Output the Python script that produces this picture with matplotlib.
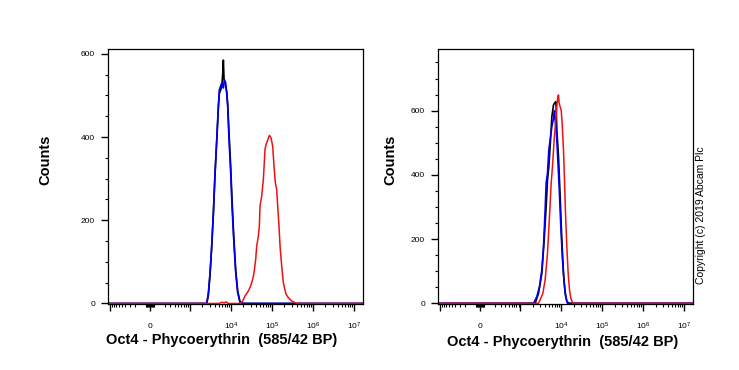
import numpy as np
import matplotlib
matplotlib.use("Agg")
import matplotlib.pyplot as plt
from matplotlib.ticker import FixedLocator, NullFormatter

plt.rcParams['font.family'] = ['Liberation Sans', 'DejaVu Sans']
plt.rcParams['mathtext.fontset'] = 'custom'
plt.rcParams['mathtext.rm'] = 'Liberation Sans'

# ---- data (fluorescence intensity vs counts) ----
# left panel
xl_black = [-1100, 0, 1000, 2545, 2795, 3070, 3370, 3700, 4060, 4470, 4895, 5180, 5910, 6245, 6490,
            6735, 7120, 7820, 8270, 8915, 9790, 10550, 11590, 12980, 14500, 16530, 20000, 1.6e7]
yl_black = [0, 0, 0, 0, 20, 70, 135, 215, 310, 390, 470, 505, 520, 550, 585,
            540, 530, 510, 480, 410, 330, 250, 165, 80, 30, 4, 0, 0]

xl_blue = [-1100, 0, 1000, 2545, 2795, 3070, 3370, 3700, 4060, 4470, 4895, 5180, 5910, 6490,
           6860, 7395, 7820, 8270, 8915, 9790, 10550, 11590, 12980, 14500, 16530, 20000, 1.6e7]
yl_blue = [0, 0, 0, 0, 26, 74, 140, 218, 314, 394, 474, 514, 530, 518,
           538, 530, 505, 474, 394, 314, 234, 154, 74, 26, 2, 0, 0]

xl_red = [-1100, 0, 1000, 5000, 6000, 6800, 7500, 8500, 17000, 19200, 21900, 26400, 30100, 33700,
          36300, 39900, 42200, 46300, 49000, 50800, 55800, 61300, 67300, 71200, 76700, 85900,
          94300, 103600, 111500, 120300, 129600, 137100, 147700, 156400, 171700, 188400, 218900,
          249600, 301000, 363000, 413600, 1.6e7]
yl_red = [0, 0, 0, 0, 3, 1, 4, 0, 0, 6, 18, 30, 42, 58,
          74, 106, 138, 162, 186, 234, 258, 298, 370, 382, 390, 404,
          398, 378, 330, 290, 274, 234, 186, 138, 90, 50, 22,
          14, 6, 2, 0, 0]

# right panel
xr_black = [-1100, 0, 1000, 2316, 2795, 3370, 3840, 4295, 4630, 4990, 5370, 5910, 6490, 7120,
            7395, 7530, 7820, 8590, 9430, 10360, 11370, 12480, 13720, 16000, 1.6e7]
yr_black = [0, 0, 0, 0, 31, 93, 197, 301, 384, 426, 488, 581, 618, 626,
            628, 612, 540, 457, 332, 197, 93, 31, 5, 0, 0]

xr_blue = [-1100, 0, 1000, 2110, 2545, 2955, 3370, 3700, 4060, 4295, 4630, 4990, 5370, 5910, 6490,
           6860, 7120, 7530, 7820, 8270, 8915, 9790, 10750, 11800, 12960, 14230, 16000, 1.6e7]
yr_blue = [0, 0, 0, 0, 21, 52, 104, 176, 291, 374, 405, 477, 509, 550, 576,
           600, 571, 540, 509, 446, 363, 239, 135, 62, 21, 0, 0, 0]

xr_red = [-1100, 0, 1000, 2795, 3185, 3565, 4060, 4630, 5180, 5690, 6130, 6730, 7395, 7820, 8270,
          8590, 8915, 9430, 9980, 10550, 11370, 12030, 12720, 13720, 14770, 15930, 17150, 18840,
          20710, 1.6e7]
yr_red = [0, 0, 0, 0, 16, 31, 73, 156, 270, 374, 426, 509, 571, 612, 643,
          649, 623, 612, 602, 561, 477, 384, 280, 176, 93, 42, 16, 2,
          0, 0]

ylims = [(-2, 611), (-3, 791)]
ymajor = [0, 200, 400, 600]
xmajor = [-1000, 0, 1000, 1e4, 1e5, 1e6, 1e7]
xmajor_labels = ['', r'$\mathregular{0}$', '', r'$\mathregular{10^4}$', r'$\mathregular{10^5}$',
                 r'$\mathregular{10^6}$', r'$\mathregular{10^7}$']
xminor = [-k * 100 for k in range(2, 10)] + [-k * 10 for k in range(1, 6)] + \
         [k * 10 for k in range(1, 6)] + [k * 100 for k in range(2, 10)] + \
         [k * 10 ** n for n in range(3, 7) for k in range(2, 10)]

fig = plt.figure(figsize=(7.39, 3.70), dpi=100)
ax1 = fig.add_axes([107.7 / 739, 65.7 / 370, 255.3 / 739, 255 / 370])
ax2 = fig.add_axes([437.7 / 739, 65.7 / 370, 255.6 / 739, 255 / 370])

panels = [
    (ax1, (xl_black, yl_black), (xl_blue, yl_blue), (xl_red, yl_red)),
    (ax2, (xr_black, yr_black), (xr_blue, yr_blue), (xr_red, yr_red)),
]

for i, (ax, blk, blu, red) in enumerate(panels):
    ax.plot(blk[0], blk[1], color='black', lw=1.2)
    ax.plot(blu[0], blu[1], color='#0000ee', lw=1.2)
    ax.plot(red[0], red[1], color='#ee1111', lw=1.1)

    ax.set_xscale('asinh', linear_width=211)
    ax.set_xlim(-1125, 1.65e7)
    ax.set_ylim(*ylims[i])

    ax.xaxis.set_major_locator(FixedLocator(xmajor))
    ax.set_xticklabels(xmajor_labels)
    ax.xaxis.set_minor_locator(FixedLocator(xminor))
    ax.xaxis.set_minor_formatter(NullFormatter())
    ax.set_yticks(ymajor)
    ax.set_yticks(np.arange(0, ylims[i][1], 50), minor=True)

    ax.tick_params(axis='both', which='major', direction='out', length=5, width=1.0,
                   labelsize=6, top=False, right=False)
    ax.tick_params(axis='both', which='minor', direction='out', length=2.5, width=0.8,
                   top=False, right=False)
    ax.tick_params(axis='x', which='major', pad=7)
    ax.tick_params(axis='y', which='major', pad=4)
    for s in ax.spines.values():
        s.set_linewidth(0.9)

ax1.text(0.4465, -0.14, 'Oct4 - Phycoerythrin  (585/42 BP)', transform=ax1.transAxes,
         ha='center', va='center', fontsize=10.5, fontweight='bold')
ax2.text(0.488, -0.147, 'Oct4 - Phycoerythrin  (585/42 BP)', transform=ax2.transAxes,
         ha='center', va='center', fontsize=10.5, fontweight='bold')
ax1.text(-0.2456, 0.565, 'Counts', transform=ax1.transAxes, rotation=90,
         ha='center', va='center', fontsize=10.5, fontweight='bold')
ax2.text(-0.1866, 0.565, 'Counts', transform=ax2.transAxes, rotation=90,
         ha='center', va='center', fontsize=10.5, fontweight='bold')
fig.text(701 / 739, 1 - 215 / 370, 'Copyright (c) 2019 Abcam Plc', rotation=90,
         ha='center', va='center', fontsize=7.5)

fig.savefig('out.png', dpi=100)
